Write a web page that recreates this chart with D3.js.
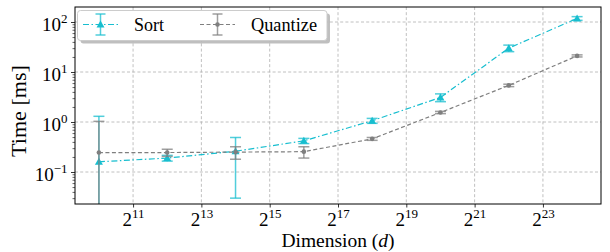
<!DOCTYPE html>
<html>
<head>
<meta charset="utf-8">
<script src="https://cdn.jsdelivr.net/npm/d3@7"></script>
<style>
  html, body { margin: 0; padding: 0; background: #fff; }
  svg { display: block; }
  text { font-family: "Liberation Serif", "DejaVu Serif", serif; fill: #000; }
</style>
</head>
<body>
<svg id="chart" width="610" height="252"></svg>
<script>
// ---- data ----
const dimExponents = [10, 12, 14, 16, 18, 20, 22, 24];
const sortMean  = [0.16, 0.19, 0.26, 0.42, 1.06, 3.1, 30, 118];
const sortErr   = [1.14, 0.025, 0.23, 0.05, 0.12, 0.55, 4.5, 10];
const quantMean = [0.245, 0.245, 0.25, 0.255, 0.46, 1.55, 5.4, 21];
const quantErr  = [0.785, 0.04, 0.07, 0.065, 0.03, 0.08, 0.3, 1.0];
const xTickExponents = [11, 13, 15, 17, 19, 21, 23];
const yTickExponents = [-1, 0, 1, 2];
const seriesNames = ["Sort", "Quantize"];

const dims = dimExponents.map(e => Math.pow(2, e));

// ---- layout ----
const svg = d3.select("#chart");
const L = 75, R = 601, T = 7, B = 204;

const x = d3.scaleLog().base(2).domain([Math.pow(2, 9.3), Math.pow(2, 24.7)]).range([L, R]);
const y = d3.scaleLog().domain([Math.pow(10, -1.64), Math.pow(10, 2.3)]).range([B, T]);

const cyan = "#17becf", gray = "#7f7f7f";

svg.append("defs").append("clipPath").attr("id", "clip")
  .append("rect").attr("x", L).attr("y", T).attr("width", R - L).attr("height", B - T);

// grid
const grid = svg.append("g");
xTickExponents.forEach(e => {
  grid.append("line").attr("x1", x(Math.pow(2, e))).attr("x2", x(Math.pow(2, e)))
    .attr("y1", T).attr("y2", B)
    .attr("stroke", "#b0b0b0").attr("stroke-width", 0.8).attr("stroke-dasharray", "3,2.2");
});
yTickExponents.forEach(e => {
  grid.append("line").attr("y1", y(Math.pow(10, e))).attr("y2", y(Math.pow(10, e)))
    .attr("x1", L).attr("x2", R)
    .attr("stroke", "#b0b0b0").attr("stroke-width", 0.8).attr("stroke-dasharray", "3,2.2");
});

// axes
const xAxis = d3.axisBottom(x).tickValues(xTickExponents.map(e => Math.pow(2, e)))
  .tickSize(3.5).tickFormat("");
const gx = svg.append("g").attr("transform", `translate(0,${B})`).call(xAxis);
gx.select(".domain").remove();
gx.selectAll(".tick line").attr("stroke", "#000").attr("stroke-width", 0.8);
gx.selectAll(".tick").each(function(d, i) {
  const t = d3.select(this).append("text").attr("y", 22).attr("text-anchor", "middle")
    .attr("font-size", 19);
  t.append("tspan").text("2");
  t.append("tspan").attr("font-size", 13).attr("dy", -8).text(String(xTickExponents[i]));
});

// y minor ticks
const minorVals = [];
for (let e = -2; e <= 2; e++) for (let m = 2; m <= 9; m++) {
  const v = m * Math.pow(10, e);
  if (v >= y.domain()[0] && v <= y.domain()[1]) minorVals.push(v);
}
const yMinor = d3.axisLeft(y).tickValues(minorVals).tickSize(2.5).tickFormat("");
const gym = svg.append("g").attr("transform", `translate(${L},0)`).call(yMinor);
gym.select(".domain").remove();
gym.selectAll(".tick line").attr("stroke", "#000").attr("stroke-width", 0.6);

const yAxis = d3.axisLeft(y).tickValues(yTickExponents.map(e => Math.pow(10, e)))
  .tickSize(4).tickFormat("");
const gy = svg.append("g").attr("transform", `translate(${L},0)`).call(yAxis);
gy.select(".domain").remove();
gy.selectAll(".tick line").attr("stroke", "#000").attr("stroke-width", 0.8);
gy.selectAll(".tick").each(function(d, i) {
  const e = yTickExponents[i];
  const t = d3.select(this).append("text").attr("x", -7.5).attr("y", 8.5).attr("text-anchor", "end")
    .attr("font-size", 19);
  t.append("tspan").text("10");
  t.append("tspan").attr("font-size", 13).attr("dy", -8).text(e < 0 ? "\u2212" + Math.abs(e) : String(e));
});

// series
const plot = svg.append("g").attr("clip-path", "url(#clip)");
const lineGen = d3.line().x(d => x(d[0])).y(d => y(d[1]));

function drawSeries(means, errs, color, dash, marker) {
  const g = plot.append("g");
  dims.forEach((dv, i) => {
    const lo = means[i] - errs[i];
    const hi = means[i] + errs[i];
    const yLo = lo > 0 ? y(lo) : B + 20;
    const yHi = y(hi);
    const cx = x(dv);
    g.append("line").attr("x1", cx).attr("x2", cx).attr("y1", yLo).attr("y2", yHi)
      .attr("stroke", color).attr("stroke-width", 1.5).attr("opacity", 0.75);
    [yHi].concat(lo > 0 ? [yLo] : []).forEach(yy => {
      g.append("line").attr("x1", cx - 5.5).attr("x2", cx + 5.5).attr("y1", yy).attr("y2", yy)
        .attr("stroke", color).attr("stroke-width", 1.5).attr("opacity", 0.75);
    });
  });
  g.append("path").datum(dims.map((d, i) => [d, means[i]]))
    .attr("d", lineGen).attr("fill", "none").attr("stroke", color)
    .attr("stroke-width", 1.2).attr("stroke-dasharray", dash);
  dims.forEach((dv, i) => {
    const cx = x(dv), cy = y(means[i]);
    if (marker === "tri") {
      g.append("path").attr("d", `M${cx},${cy - 4} L${cx + 4},${cy + 3} L${cx - 4},${cy + 3} Z`)
        .attr("fill", color);
    } else {
      g.append("circle").attr("cx", cx).attr("cy", cy).attr("r", 2.3).attr("fill", color);
    }
  });
}
drawSeries(sortMean, sortErr, cyan, "6,2.5,1.5,2.5", "tri");
drawSeries(quantMean, quantErr, gray, "4,2.5", "dot");

// frame
svg.append("rect").attr("x", L).attr("y", T).attr("width", R - L).attr("height", B - T)
  .attr("fill", "none").attr("stroke", "#000").attr("stroke-width", 1);

// legend
const lg = svg.append("g");
lg.append("rect").attr("x", 80.5).attr("y", 13.5).attr("width", 249.5).attr("height", 30).attr("rx", 3)
  .attr("fill", "#8a8a8a").attr("opacity", 0.55);
lg.append("rect").attr("x", 77.5).attr("y", 10.5).attr("width", 249.5).attr("height", 30).attr("rx", 3)
  .attr("fill", "#fff").attr("stroke", "#cccccc").attr("stroke-width", 1);
const legendItems = [
  { name: seriesNames[0], color: cyan, dash: "6,2.5,1.5,2.5", marker: "tri", x0: 83, tx: 134, w: 30 },
  { name: seriesNames[1], color: gray, dash: "4,2.5", marker: "dot", x0: 200, tx: 251, w: 66 }
];
legendItems.forEach(it => {
  const cy = 24.5, cx = it.x0 + 17.5;
  lg.append("line").attr("x1", it.x0).attr("x2", it.x0 + 35).attr("y1", cy).attr("y2", cy)
    .attr("stroke", it.color).attr("stroke-width", 1.2).attr("stroke-dasharray", it.dash);
  lg.append("line").attr("x1", cx).attr("x2", cx).attr("y1", cy - 10.5).attr("y2", cy + 10.5)
    .attr("stroke", it.color).attr("stroke-width", 1.5).attr("opacity", 0.75);
  [cy - 10.5, cy + 10.5].forEach(yy => lg.append("line").attr("x1", cx - 5).attr("x2", cx + 5)
    .attr("y1", yy).attr("y2", yy).attr("stroke", it.color).attr("stroke-width", 1.5).attr("opacity", 0.75));
  if (it.marker === "tri") {
    lg.append("path").attr("d", `M${cx},${cy - 4} L${cx + 4},${cy + 3} L${cx - 4},${cy + 3} Z`).attr("fill", it.color);
  } else {
    lg.append("circle").attr("cx", cx).attr("cy", cy).attr("r", 2.3).attr("fill", it.color);
  }
  lg.append("text").attr("x", it.tx).attr("y", cy + 6.5).attr("font-size", 19)
    .attr("textLength", it.w).attr("lengthAdjust", "spacingAndGlyphs").text(it.name);
});

// axis labels
const xl = svg.append("text").attr("x", (L + R) / 2).attr("y", 247).attr("text-anchor", "middle")
  .attr("font-size", 19.5);
xl.append("tspan").text("Dimension (");
xl.append("tspan").attr("font-style", "italic").text("d");
xl.append("tspan").text(")");

svg.append("text").attr("transform", `translate(26,111) rotate(-90)`).attr("text-anchor", "middle")
  .attr("font-size", 20).attr("textLength", 92).attr("lengthAdjust", "spacingAndGlyphs").text("Time [ms]");
</script>
</body>
</html>
